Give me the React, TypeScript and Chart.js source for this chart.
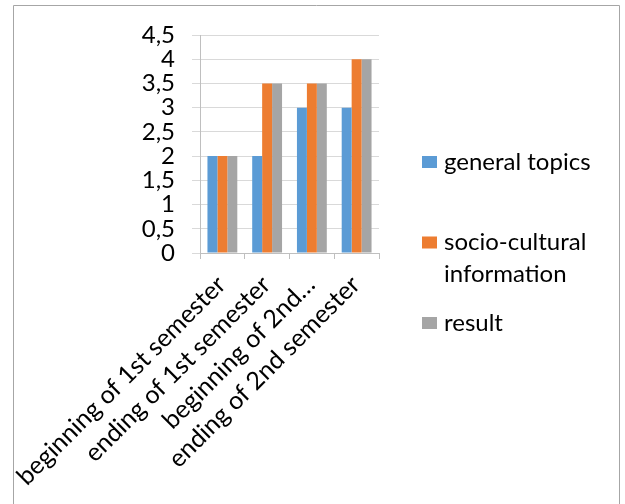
import React, { useEffect, useRef } from "react";
import { Chart, registerables } from "chart.js";

Chart.register(...registerables);

const categories = [
  "beginning of 1st semester",
  "ending of 1st semester",
  "beginning of 2nd semester",
  "ending of 2nd semester",
];
const categoryTickLabels = [
  "beginning of 1st semester",
  "ending of 1st semester",
  "beginning of 2nd…",
  "ending of 2nd semester",
];
const seriesNames = ["general topics", "socio-cultural information", "result"];
const generalTopics = [2, 2, 3, 3];
const socioCultural = [2, 3.5, 3.5, 4];
const resultValues = [2, 3.5, 3.5, 4];
const yTickLabels = ["0", "0,5", "1", "1,5", "2", "2,5", "3", "3,5", "4", "4,5"];

const COLORS = ["#5B9BD5", "#ED7D31", "#A5A5A5"];
const FONT = "Lato, 'Liberation Sans', sans-serif";

const frameAndLegend = {
  id: "frameAndLegend",
  beforeDraw(chart: any) {
    const ctx = chart.ctx;
    ctx.save();
    ctx.fillStyle = "#ffffff";
    ctx.fillRect(0, 0, chart.width, chart.height);
    ctx.strokeStyle = "#A6A6A6";
    ctx.lineWidth = 1;
    ctx.beginPath();
    ctx.moveTo(13.5, 504);
    ctx.lineTo(13.5, 5.5);
    ctx.lineTo(619.5, 5.5);
    ctx.lineTo(619.5, 504);
    ctx.stroke();
    ctx.restore();
  },
  afterDraw(chart: any) {
    const ctx = chart.ctx;
    ctx.save();
    ctx.font = `24px ${FONT}`;
    ctx.textBaseline = "middle";
    ctx.textAlign = "left";
    const maxW = 170;
    chart.data.datasets.forEach((ds: any, i: number) => {
      const cy = 162 + i * 80.5;
      ctx.fillStyle = ds.backgroundColor;
      ctx.fillRect(422, cy - 6, 15, 12);
      const words = String(ds.label).split(" ");
      const lines: string[] = [];
      let cur = "";
      words.forEach((w) => {
        const t = cur ? cur + " " + w : w;
        if (ctx.measureText(t).width > maxW && cur) {
          lines.push(cur);
          cur = w;
        } else cur = t;
      });
      if (cur) lines.push(cur);
      ctx.fillStyle = "#000000";
      lines.forEach((ln, j) => ctx.fillText(ln, 444, cy + j * 32));
    });
    ctx.restore();
  },
};

export default function App() {
  const ref = useRef<HTMLCanvasElement | null>(null);
  useEffect(() => {
    if (!ref.current) return;
    const chart = new Chart(ref.current, {
      type: "bar",
      data: {
        labels: categories,
        datasets: [
          { label: seriesNames[0], data: generalTopics, backgroundColor: COLORS[0] },
          { label: seriesNames[1], data: socioCultural, backgroundColor: COLORS[1] },
          { label: seriesNames[2], data: resultValues, backgroundColor: COLORS[2] },
        ],
      },
      options: {
        responsive: false,
        animation: false,
        layout: { padding: { left: 13, top: 35, right: 246, bottom: 0 } },
        datasets: {
          bar: { categoryPercentage: 0.667, barPercentage: 1, borderWidth: 0 },
        },
        plugins: {
          legend: { display: false },
          tooltip: { enabled: false },
        },
        scales: {
          x: {
            afterFit(scale: any) {
              scale.height = 251;
              scale.paddingLeft = 0;
              scale.paddingRight = 0;
            },
            grid: {
              display: true,
              drawOnChartArea: false,
              drawTicks: true,
              tickLength: 6,
              color: "#BFBFBF",
            },
            border: { display: true, color: "#BFBFBF" },
            ticks: {
              autoSkip: false,
              maxRotation: 45,
              minRotation: 45,
              padding: 11,
              labelOffset: -1,
              color: "#000000",
              font: { family: FONT, size: 25 },
              callback: (_v: any, i: number) => categoryTickLabels[i],
            },
          },
          y: {
            min: 0,
            max: 4.5,
            afterFit(scale: any) {
              scale.width = 187;
            },
            grid: {
              color: "#D9D9D9",
              drawTicks: true,
              tickLength: 8,
            },
            border: { display: true, color: "#BFBFBF" },
            ticks: {
              stepSize: 0.5,
              autoSkip: false,
              padding: 17,
              color: "#000000",
              font: { family: FONT, size: 24 },
              callback: (_v: any, i: number) => yTickLabels[i],
            },
          },
        },
      },
      plugins: [frameAndLegend],
    });
    return () => chart.destroy();
  }, []);
  return (
    <div style={{ position: "fixed", left: 0, top: 0, width: 625, height: 504 }}>
      <canvas ref={ref} width={625} height={504} style={{ display: "block", width: 625, height: 504 }} />
    </div>
  );
}
